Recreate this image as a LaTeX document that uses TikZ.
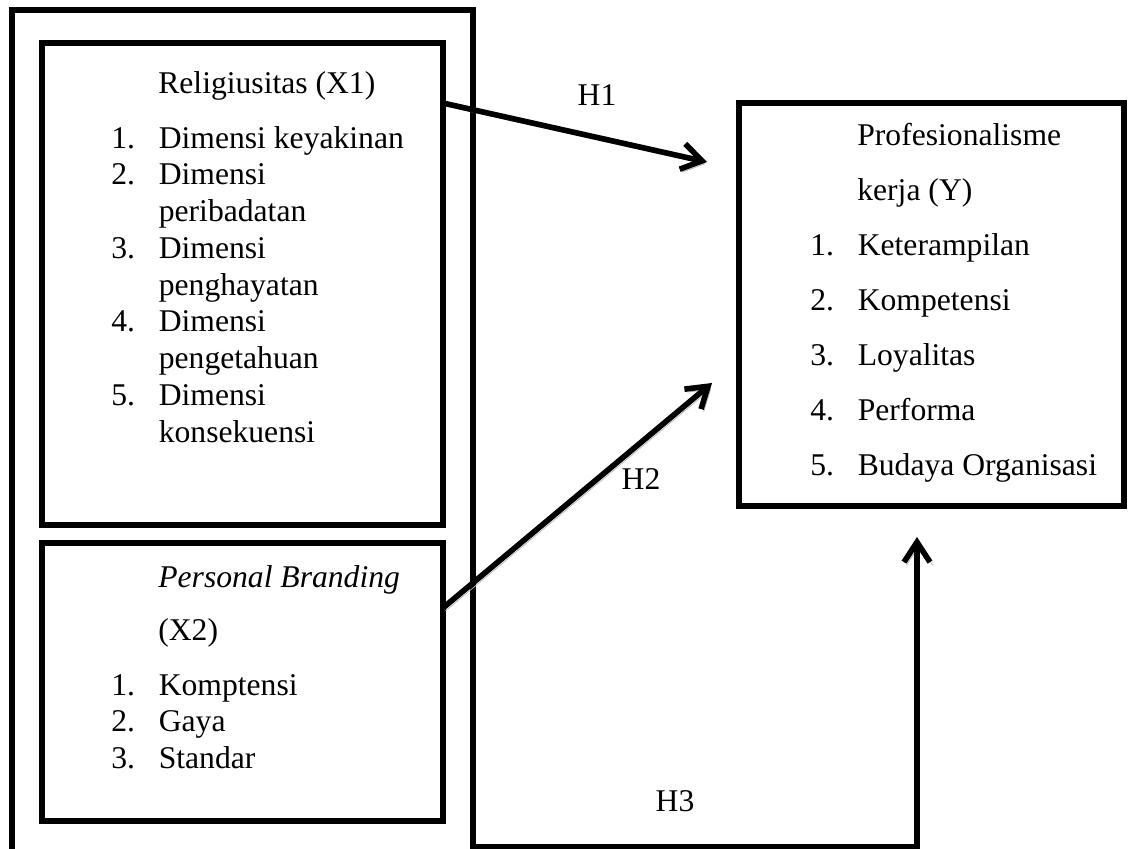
\documentclass[tikz,border=0pt]{standalone}
\usepackage{fontspec}
\setmainfont{Liberation Serif}
\usetikzlibrary{arrows.meta,positioning}

\tikzset{
  varbox/.style={draw, line width=3.2pt, inner sep=0pt, outer sep=0pt},
  entry/.style={anchor=base west, inner sep=0pt, font=\fontsize{18}{20}\selectfont},
  path arrow/.style={line width=3.2pt, -{Straight Barb[length=0.4cm, width=0.52cm]},
    preaction={draw=gray!60, transform canvas={shift={(0.05cm,-0.06cm)}}}},
}
\newcommand{\itemno}[1]{\makebox[0.95cm][l]{#1}}

\begin{document}
\begin{tikzpicture}[x=0.02cm, y=-0.02cm]
  \useasboundingbox (0,0) rectangle (1130,849);

  % outer frame, its bottom edge falls below the page
  \node[varbox, minimum width=9.22cm, minimum height=17.2cm] (frame) at (242.5,440) {};

  \node[varbox, minimum width=8.02cm, minimum height=9.64cm] (x1) at (242.5,284) {};
  \node[varbox, minimum width=8.02cm, minimum height=5.56cm, below=0.36cm of x1] (x2) {};
  \node[varbox, minimum width=7.7cm, minimum height=8.06cm] (y) at (931.5,304.5) {};

  % X1
  \node[entry] (x1-head) at (158,93) {Religiusitas (X1)};
  \foreach \lbl/\txt [count=\i from 0] in {1./Dimensi keyakinan, 2./Dimensi, {}/peribadatan,
      3./Dimensi, {}/penghayatan, 4./Dimensi, {}/pengetahuan, 5./Dimensi, {}/konsekuensi}
    \node[entry] (x1-\i) at (111,{148+36.75*\i}) {\itemno{\lbl}\txt};

  % X2
  \node[entry] (x2-head) at (158,587) {\textit{Personal Branding}};
  \node[entry] (x2-code) at (158,640) {(X2)};
  \foreach \lbl/\txt [count=\i from 0] in {1./Komptensi, 2./Gaya, 3./Standar}
    \node[entry] (x2-\i) at (111,{695+36.7*\i}) {\itemno{\lbl}\txt};

  % Y
  \node[entry] (y-head) at (857,145) {Profesionalisme};
  \node[entry] (y-code) at (857,200) {kerja (Y)};
  \foreach \lbl/\txt [count=\i from 0] in {1./Keterampilan, 2./Kompetensi, 3./Loyalitas,
      4./Performa, 5./Budaya Organisasi}
    \node[entry] (y-\i) at (810,{255+55*\i}) {\itemno{\lbl}\txt};

  % hypotheses
  \draw[path arrow] ([yshift=-1.2cm]x1.north east) -- ([xshift=-0.64cm, yshift=-1.18cm]y.north west);
  \draw[path arrow] ([yshift=-1.3cm]x2.north east) -- ([xshift=-0.54cm, yshift=-5.6cm]y.north west);
  \coordinate (h3start) at (473,847);
  \coordinate (h3end) at ([xshift=-0.29cm]y.south);
  \draw[path arrow, shorten >=0.62cm] (h3start) -| (h3end);

  \node[entry, anchor=center] (h1) at (597,95) {H1};
  \node[entry, anchor=center] (h2) at (641,479) {H2};
  \node[entry, anchor=center] (h3) at (675,801) {H3};
\end{tikzpicture}
\end{document}
